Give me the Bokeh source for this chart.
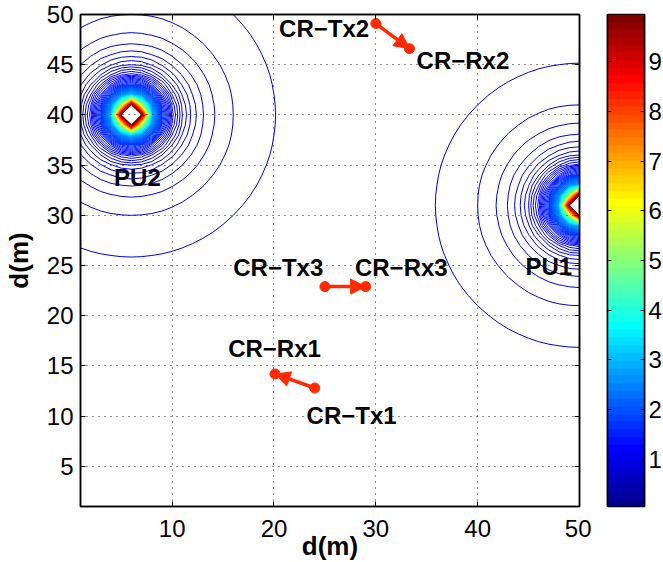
import numpy as np
from bokeh.plotting import figure
from bokeh.models import (Range1d, LinearAxis, FixedTicker, Arrow, NormalHead,
                          ColumnDataSource, LinearColorMapper)
from bokeh.layouts import row
from bokeh.embed import file_html
from bokeh.resources import INLINE
from bokeh.core.properties import value

# ---------------- data ----------------
pu_names = ["PU1", "PU2"]
pu_x = [50.0, 6.0]
pu_y = [31.0, 40.0]
pu_power = [10.0, 10.0]

grid_x = list(range(1, 51))
grid_y = list(range(1, 51))

tx_names = ["CR\u2212Tx1", "CR\u2212Tx2", "CR\u2212Tx3"]
tx_x = [24.0, 30.0, 25.0]
tx_y = [12.8, 49.1, 22.9]
rx_names = ["CR\u2212Rx1", "CR\u2212Rx2", "CR\u2212Rx3"]
rx_x = [20.1, 33.3, 29.0]
rx_y = [14.2, 46.6, 22.9]

level_min = 0.05
level_max = 9.95
level_step = 0.05

x_ticks = [10, 20, 30, 40, 50]
y_ticks = [5, 10, 15, 20, 25, 30, 35, 40, 45, 50]
cbar_ticks = [1, 2, 3, 4, 5, 6, 7, 8, 9]

# label placement (data coordinates, left / middle anchor)
label_text = ["CR\u2212Tx2", "CR\u2212Rx2", "PU2", "PU1", "CR\u2212Tx3",
              "CR\u2212Rx3", "CR\u2212Rx1", "CR\u2212Tx1"]
label_x = [20.5, 34.0, 4.3, 44.7, 16.0, 27.95, 15.5, 23.2]
label_y = [48.58, 45.37, 33.8, 24.9, 24.83, 24.83, 16.7, 10.06]

# ---------------- helpers ----------------
def jet_at(t):
    r = min(max(1.5 - abs(4 * t - 3), 0), 1)
    g = min(max(1.5 - abs(4 * t - 2), 0), 1)
    b = min(max(1.5 - abs(4 * t - 1), 0), 1)
    return "#%02x%02x%02x" % (round(r * 255), round(g * 255), round(b * 255))

jet64 = [jet_at((i + 1) / 64) for i in range(64)]

X, Y = np.meshgrid(np.array(grid_x, float), np.array(grid_y, float))
Z = np.zeros_like(X)
for px, py, pw in zip(pu_x, pu_y, pu_power):
    d2 = (X - px) ** 2 + (Y - py) ** 2
    Z = np.maximum(Z, np.where(d2 > 0, pw / np.maximum(d2, 1e-9), 1e3))

levels = np.round(np.arange(level_min, level_max + 1e-9, level_step), 4)
lo, hi = level_min, level_max
line_colors = [jet_at(0.07 + 0.93 * (lv - lo) / (hi - lo)) for lv in levels]

FONT = "Liberation Sans"
RED = "#ff2a00"

# ---------------- main plot ----------------
p = figure(frame_width=499, frame_height=492,
           x_range=Range1d(1, 50), y_range=Range1d(1, 50),
           min_border_left=79, min_border_right=12, min_border_top=14,
           min_border_bottom=48, toolbar_location=None, output_backend="svg")
p.outline_line_color = "black"
p.outline_line_width = 1.5

cr = p.contour(grid_x, grid_y, Z, levels, line_color=line_colors, line_width=1)
cr.level = "image"

for ax in (p.xaxis[0], p.yaxis[0]):
    ax.major_tick_in = 5
    ax.major_tick_out = 0
    ax.minor_tick_line_color = None
    ax.axis_line_width = 1.5
    ax.major_tick_line_width = 1
    ax.major_label_text_font = FONT
    ax.major_label_text_font_size = "24px"
    ax.major_label_text_color = "black"
    ax.axis_label = "d(m)"
    ax.axis_label_text_font = FONT
    ax.axis_label_text_font_style = "bold"
    ax.axis_label_text_font_size = "26px"
    ax.axis_label_text_color = "black"

p.xaxis[0].ticker = FixedTicker(ticks=x_ticks)
p.yaxis[0].ticker = FixedTicker(ticks=y_ticks)
p.xaxis[0].major_label_standoff = 13
p.xaxis[0].axis_label_standoff = -9
p.yaxis[0].major_label_standoff = 7
p.yaxis[0].axis_label_standoff = 10

top_ax = LinearAxis(ticker=FixedTicker(ticks=x_ticks),
                    major_label_overrides={t: "" for t in x_ticks},
                    major_label_text_font_size="1px", major_label_standoff=0,
                    major_tick_in=5, major_tick_out=0, minor_tick_line_color=None,
                    axis_line_width=1.5)
right_ax = LinearAxis(ticker=FixedTicker(ticks=y_ticks),
                      major_label_overrides={t: "" for t in y_ticks},
                      major_label_text_font_size="1px", major_label_standoff=0,
                      major_tick_in=5, major_tick_out=0, minor_tick_line_color=None,
                      axis_line_width=1.5)
p.add_layout(top_ax, "above")
p.add_layout(right_ax, "right")

for g, t in ((p.xgrid[0], [10, 20, 30, 40]), (p.ygrid[0], y_ticks[:-1])):
    g.ticker = FixedTicker(ticks=t)
    g.grid_line_color = "#222222"
    g.grid_line_dash = "1 5"
    g.grid_line_width = 1

src = ColumnDataSource(dict(x_start=tx_x, y_start=tx_y, x_end=rx_x, y_end=rx_y))
p.add_layout(Arrow(source=src, x_start="x_start", y_start="y_start",
                   x_end="x_end", y_end="y_end", line_color=RED, line_width=3.5,
                   end=NormalHead(size=15, fill_color=RED, line_color=RED)))
p.scatter(tx_x, tx_y, size=10, color=RED)
p.scatter(rx_x, rx_y, size=10, color=RED)

p.text(x=label_x, y=label_y, text=label_text, text_font=value(FONT),
       text_font_style="bold", text_font_size="24px", text_baseline="middle",
       text_align="left", text_color="black")

# ---------------- colorbar ----------------
cb = figure(frame_width=37, frame_height=492, x_range=Range1d(0, 1),
            y_range=Range1d(lo, hi), x_axis_location=None, y_axis_location="right",
            min_border_left=16, min_border_top=14, min_border_right=20,
            min_border_bottom=48, toolbar_location=None, output_backend="svg")
cb.grid.visible = False
cb.outline_line_color = "black"
cb.outline_line_width = 1.5
step = (hi - lo) / 64
img = np.array([lo + (i + 0.5) * step for i in range(64)]).reshape(64, 1)
cb.image(image=[img], x=0, y=lo, dw=1, dh=hi - lo,
         color_mapper=LinearColorMapper(palette=jet64, low=lo, high=hi))
ra = cb.yaxis[0]
ra.ticker = FixedTicker(ticks=cbar_ticks)
ra.major_tick_in = 4
ra.major_tick_out = 0
ra.minor_tick_line_color = None
ra.axis_line_width = 1.5
ra.major_label_standoff = 4
ra.major_label_text_font = FONT
ra.major_label_text_font_size = "24px"
ra.major_label_text_color = "black"
la = LinearAxis(ticker=FixedTicker(ticks=cbar_ticks),
                major_label_overrides={t: "" for t in cbar_ticks},
                major_label_text_font_size="1px", major_label_standoff=0,
                major_tick_in=4, major_tick_out=0, minor_tick_line_color=None,
                axis_line_width=1.5)
cb.add_layout(la, "left")

layout = row(p, cb)
open("out.html", "w").write(file_html(layout, INLINE))
